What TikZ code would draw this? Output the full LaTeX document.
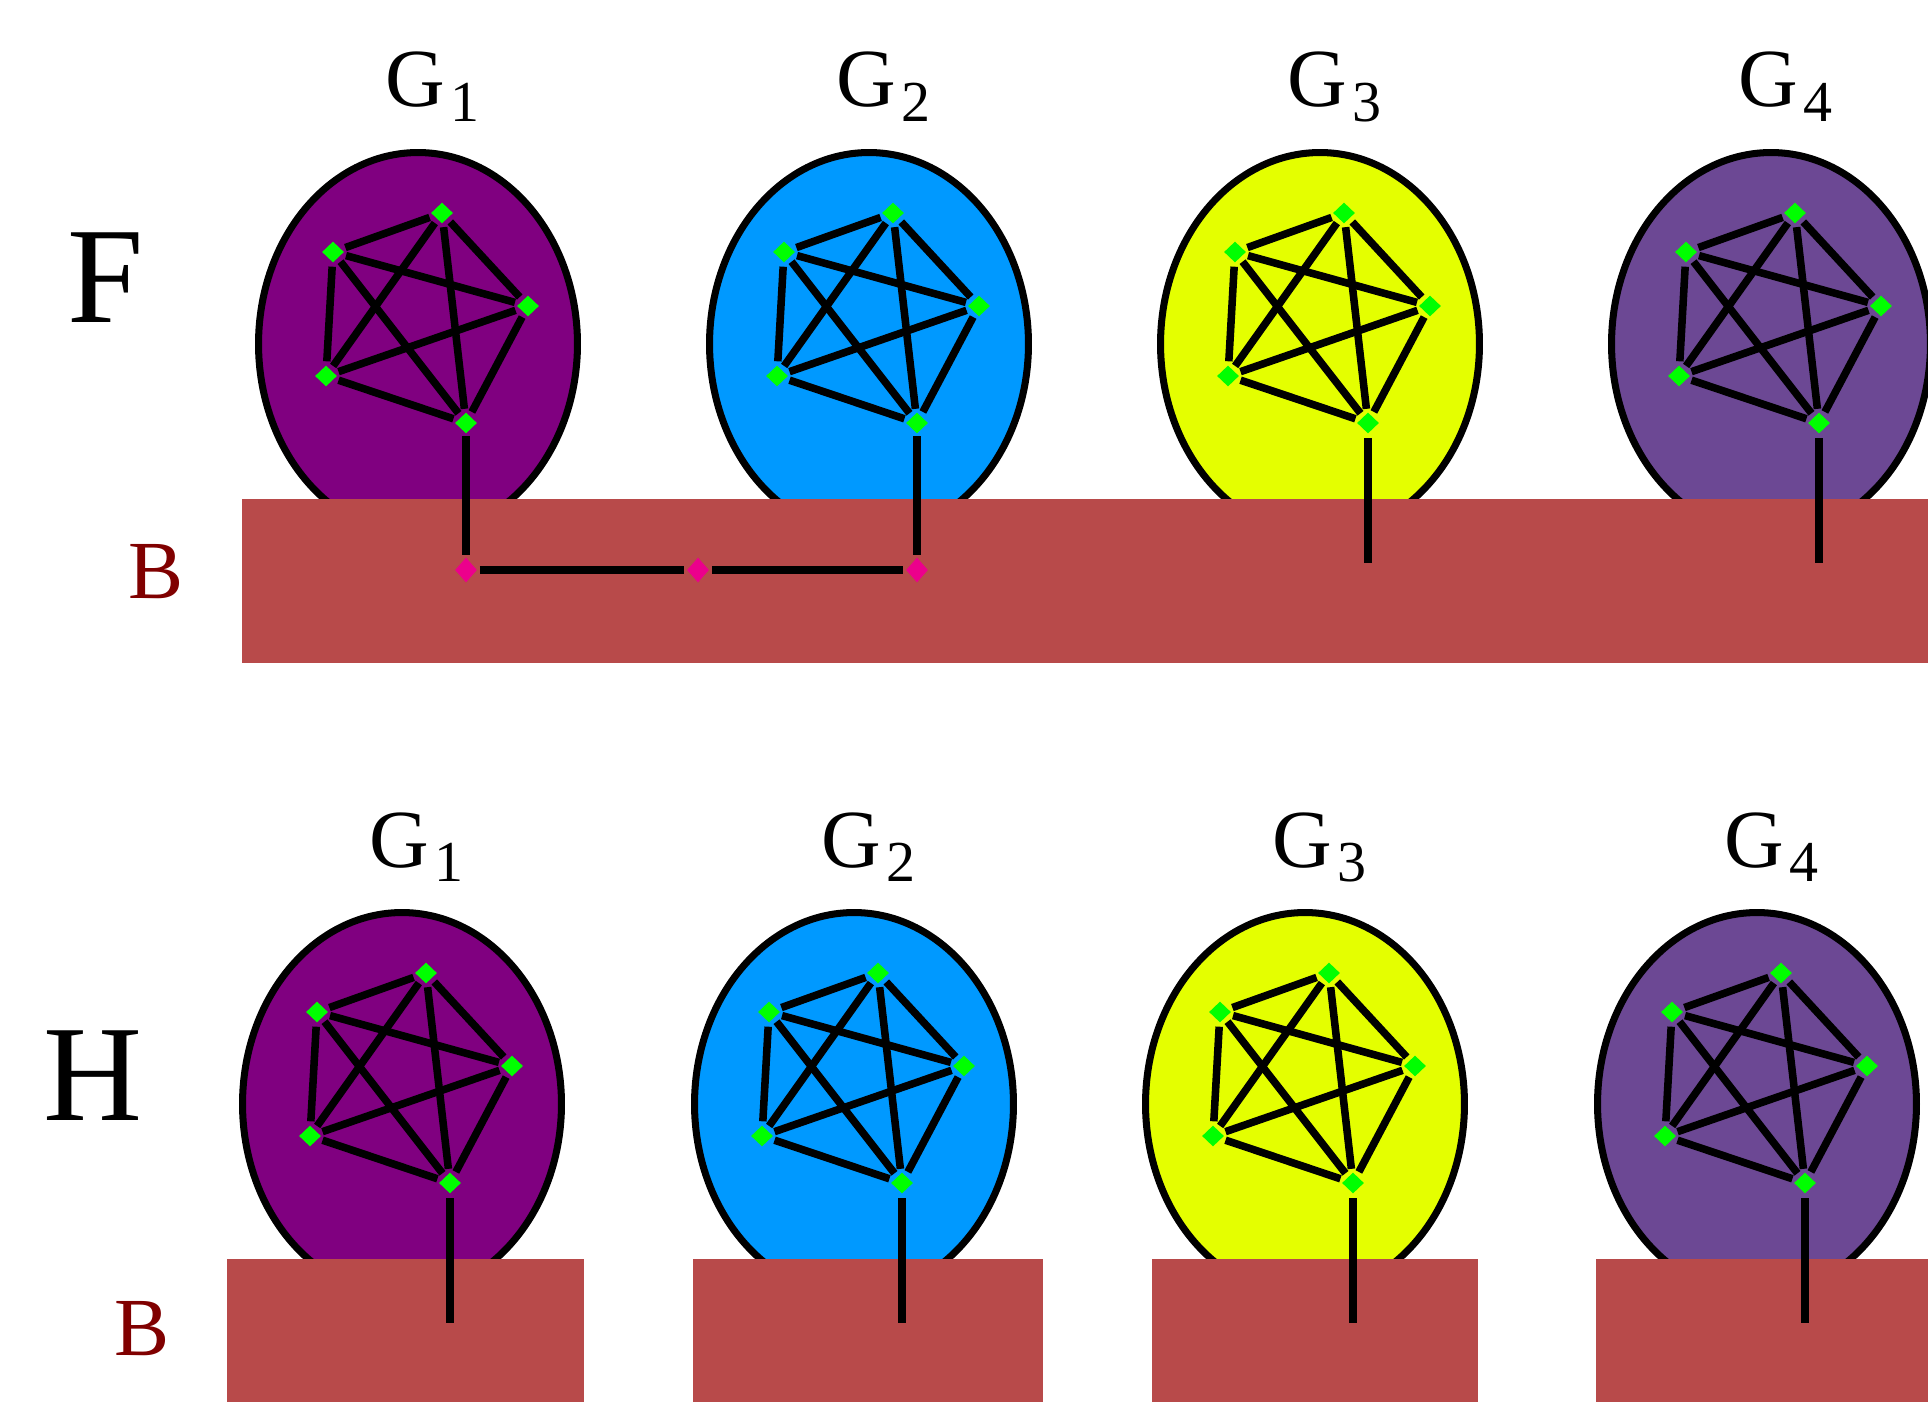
\documentclass[tikz,border=0pt]{standalone}
\usepackage{fontspec}
\setmainfont{Liberation Serif}
\usetikzlibrary{shapes.geometric}
\definecolor{gPurple}{RGB}{128,0,128}
\definecolor{gBlue}{RGB}{0,153,255}
\definecolor{gYellow}{RGB}{228,255,0}
\definecolor{gViolet}{RGB}{108,72,148}
\definecolor{groundRed}{RGB}{184,74,74}
\definecolor{labelRed}{RGB}{128,0,0}
\definecolor{vertGreen}{RGB}{0,255,0}

\newcommand{\gsub}[1]{G\kern3pt\raisebox{-8pt}{\fontsize{33}{33}\selectfont #1}}

% one coloured blob with its K5 inside
\newcommand{\blob}[5]{%
  \node[blob,fill=#4] (#1) at (#2,#3) {};
  \node[glabel] (#1lab) at ({#2-33},{#3-237}) {\gsub{#5}};
  \node[vert] (#1a) at ({#2+24},{#3-131}) {};
  \node[vert] (#1b) at ({#2-85},{#3-92}) {};
  \node[vert] (#1c) at ({#2+110},{#3-38}) {};
  \node[vert] (#1d) at ({#2-92},{#3+32}) {};
  \node[vert] (#1e) at ({#2+48},{#3+79}) {};
  \foreach \s/\t in {a/b,a/c,a/d,a/e,b/c,b/d,b/e,c/d,c/e,d/e}
    \draw[edge] (#1\s) -- (#1\t);
}

\begin{document}
\begin{tikzpicture}[
    x=0.02cm,y=-0.02cm,
    blob/.style={ellipse,draw,line width=4pt,minimum width=6.38cm,minimum height=7.66cm,inner sep=0pt},
    vert/.style={diamond,fill=vertGreen,minimum width=0.44cm,minimum height=0.42cm,inner sep=0pt},
    joint/.style={diamond,fill=magenta,minimum width=0.44cm,minimum height=0.5cm,inner sep=0pt},
    edge/.style={line width=4.3pt,shorten <=2.5pt,shorten >=2.5pt},
    stem/.style={line width=4.5pt,shorten <=2.5pt},
    link/.style={line width=4.5pt,shorten <=1.5pt,shorten >=1.5pt},
    ground/.style={fill=groundRed},
    glabel/.style={anchor=base west,inner sep=0pt,font=\fontsize{47}{47}\selectfont},
    side/.style={anchor=base west,inner sep=0pt,font=\fontsize{78}{78}\selectfont},
    basename/.style={anchor=base west,inner sep=0pt,text=labelRed,font=\fontsize{47}{47}\selectfont}
  ]
  \clip (0,0) rectangle (1928,1402);

  % F row
  \node[side] (F) at (67,323) {F};
  \blob{F1}{418}{344}{gPurple}{1}
  \blob{F2}{869}{344}{gBlue}{2}
  \blob{F3}{1320}{344}{gYellow}{3}
  \blob{F4}{1771}{344}{gViolet}{4}
  \fill[ground] (242,499) rectangle (1940,663);
  \node[basename] (FB) at (128,598) {B};
  \node[joint] (F1m) at (466,570) {};
  \node[joint] (Fmid) at (698,570) {};
  \node[joint] (F2m) at (917,570) {};
  \coordinate (F3end) at (1368,563);
  \coordinate (F4end) at (1819,563);
  \draw[link] (F1e) -- (F1m);
  \draw[link] (F2e) -- (F2m);
  \draw[link] (F1m) -- (Fmid);
  \draw[link] (Fmid) -- (F2m);
  \draw[stem] (F3e) -- (F3end);
  \draw[stem] (F4e) -- (F4end);

  % H row
  \node[side] (H) at (43,1120) {H};
  \blob{H1}{402}{1104}{gPurple}{1}
  \blob{H2}{854}{1104}{gBlue}{2}
  \blob{H3}{1305}{1104}{gYellow}{3}
  \blob{H4}{1757}{1104}{gViolet}{4}
  \fill[ground] (227,1259) rectangle (584,1410);
  \fill[ground] (693,1259) rectangle (1043,1410);
  \fill[ground] (1152,1259) rectangle (1478,1410);
  \fill[ground] (1596,1259) rectangle (1940,1410);
  \node[basename] (HB) at (114,1355) {B};
  \coordinate (H1end) at (450,1323);
  \coordinate (H2end) at (902,1323);
  \coordinate (H3end) at (1353,1323);
  \coordinate (H4end) at (1805,1323);
  \draw[stem] (H1e) -- (H1end);
  \draw[stem] (H2e) -- (H2end);
  \draw[stem] (H3e) -- (H3end);
  \draw[stem] (H4e) -- (H4end);
\end{tikzpicture}
\end{document}
